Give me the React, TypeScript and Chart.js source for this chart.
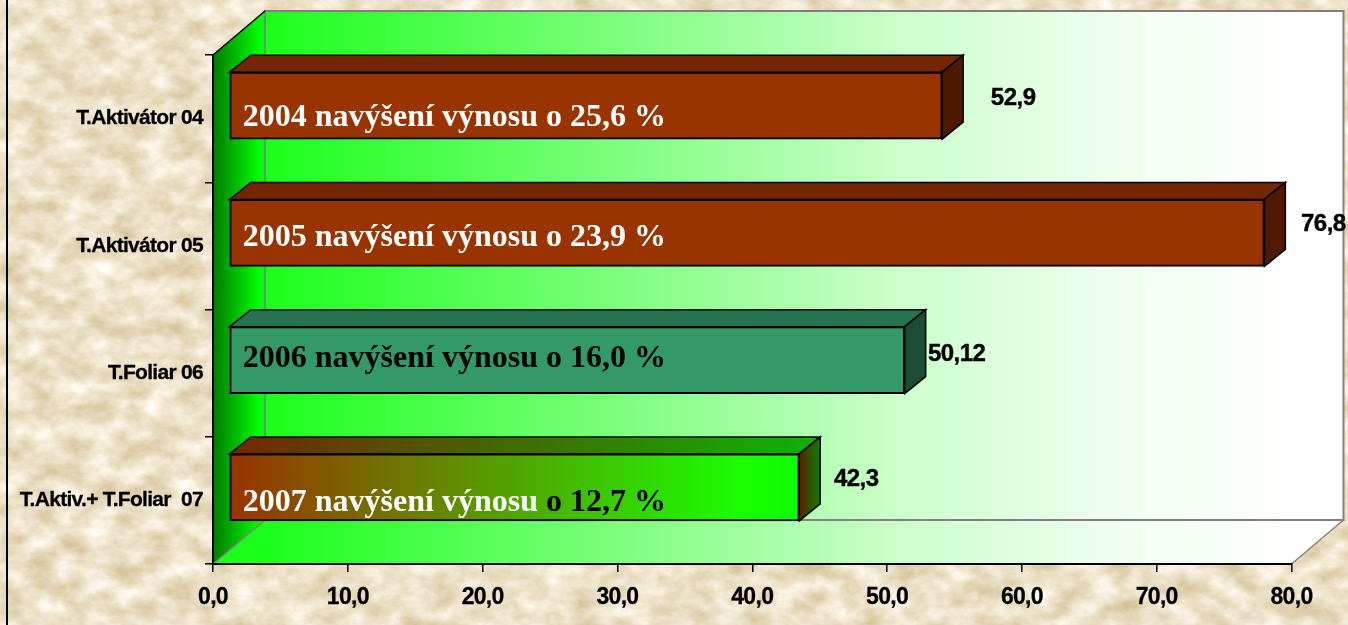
import React, { useEffect, useRef } from "react";
import { Chart, registerables } from "chart.js";

Chart.register(...registerables);

const categories = ["T.Aktivátor 04", "T.Aktivátor 05", "T.Foliar 06", "T.Aktiv.+ T.Foliar  07"];
const values = [52.9, 76.8, 50.12, 42.3];
const valueLabels = ["52,9", "76,8", "50,12", "42,3"];
const innerWhite = ["2004 navýšení výnosu o 25,6 %", "2005 navýšení výnosu o 23,9 %", "", "2007 navýšení výnosu "];
const innerBlack = ["", "", "2006 navýšení výnosu o 16,0 %", "o 12,7 %"];
const labelOffsetX = [71, 59, 52, 57];
const labelOffsetY = [-8, -10, -7, -9];
const innerOffsetY = [12, 5, -1, 15];

const W = 1348;
const H = 625;
const WALL_DX = 52;
const WALL_DY = -44;
const BAR_DX = 16;
const BAR_DY = -13;
const DEPTH_X = 21;
const DEPTH_Y = -17;

const TEXTURE =
  "data:image/svg+xml," +
  encodeURIComponent(
    `<svg xmlns="http://www.w3.org/2000/svg" width="${W}" height="${H}"><filter id="n" x="0" y="0" width="100%" height="100%" color-interpolation-filters="sRGB"><feTurbulence type="fractalNoise" baseFrequency="0.035 0.05" numOctaves="5" seed="7"/><feColorMatrix type="matrix" values="0.25 0 0 0 0.80  0.32 0 0 0 0.72  0.50 0 0 0 0.53  0 0 0 0 1"/></filter><rect width="100%" height="100%" filter="url(#n)"/></svg>`
  );

function shade(stops: [number, string][], ctx: CanvasRenderingContext2D, x0: number, x1: number) {
  const g = ctx.createLinearGradient(x0, 0, x1, 0);
  stops.forEach(([p, c]) => g.addColorStop(p, c));
  return g;
}

function poly(ctx: CanvasRenderingContext2D, pts: number[][], fill: any, stroke?: string, lw = 1) {
  ctx.beginPath();
  pts.forEach(([x, y], i) => (i ? ctx.lineTo(x, y) : ctx.moveTo(x, y)));
  ctx.closePath();
  ctx.fillStyle = fill;
  ctx.fill();
  if (stroke) {
    ctx.strokeStyle = stroke;
    ctx.lineWidth = lw;
    ctx.stroke();
  }
}

const scene = {
  id: "scene",
  beforeDraw(chart: any) {
    const { ctx, chartArea: a } = chart;
    const l = a.left, r = a.right, t = a.top, b = a.bottom;
    const bl = l + WALL_DX, br = r + WALL_DX, bt = t + WALL_DY, bb = b + WALL_DY;
    ctx.save();
    ctx.fillStyle = "#000";
    ctx.fillRect(6, 0, 2, H);
    const wall = shade(
      [
        [0, "#1cff1c"],
        [0.31, "#78ff78"],
        [0.59, "#ccffcc"],
        [0.78, "#eeffee"],
        [0.95, "#ffffff"],
        [1, "#ffffff"],
      ],
      ctx,
      bl,
      br
    );
    poly(ctx, [[l, b], [bl, bb], [br, bb], [r, b]], wall);
    poly(ctx, [[bl, bt], [br, bt], [br, bb], [bl, bb]], wall);
    ctx.strokeStyle = "#808080";
    ctx.lineWidth = 2;
    ctx.strokeRect(bl, bt, br - bl, bb - bt);
    poly(ctx, [[l, t], [bl, bt], [bl, bb], [l, b]], shade([[0, "#007a00"], [0.9, "#00ff00"], [1, "#00ff00"]], ctx, l, bl));
    ctx.lineWidth = 1.5;
    ctx.strokeStyle = "#808080";
    ctx.beginPath();
    ctx.moveTo(l, b);
    ctx.lineTo(bl, bb);
    ctx.moveTo(r, b);
    ctx.lineTo(br, bb);
    ctx.moveTo(bl, bt);
    ctx.lineTo(bl, bb);
    ctx.stroke();
    ctx.strokeStyle = "#000";
    ctx.beginPath();
    ctx.moveTo(l, t);
    ctx.lineTo(bl, bt);
    ctx.stroke();
    ctx.restore();
    (ctx as any).letterSpacing = "-0.7px";
  },
  beforeDatasetsDraw(chart: any) {
    (chart.ctx as any).letterSpacing = "0px";
  },
  beforeDatasetDraw(chart: any, args: any) {
    const { ctx } = chart;
    const bars = chart.getDatasetMeta(args.index).data;
    ctx.save();
    bars.forEach((bar: any, i: number) => {
      const x0 = bar.base + BAR_DX;
      const x1 = bar.x + BAR_DX;
      const y0 = bar.y - bar.height / 2 + BAR_DY;
      const y1 = bar.y + bar.height / 2 + BAR_DY;
      let top: any = "#732600";
      let side: any = "#4d1a00";
      if (i === 2) {
        top = "#267350";
        side = "#1a4d33";
      }
      if (i === 3) {
        top = shade([[0, "#732600"], [1, "#0cb400"]], ctx, x0, x1 + DEPTH_X);
        side = shade([[0, "#5a2000"], [1, "#0d8000"]], ctx, x1, x1 + DEPTH_X);
      }
      poly(ctx, [[x0, y0], [x0 + DEPTH_X, y0 + DEPTH_Y], [x1 + DEPTH_X, y0 + DEPTH_Y], [x1, y0]], top, "#000", 1.5);
      poly(ctx, [[x1, y0], [x1 + DEPTH_X, y0 + DEPTH_Y], [x1 + DEPTH_X, y1 + DEPTH_Y], [x1, y1]], side, "#000", 1.5);
    });
    ctx.translate(BAR_DX, BAR_DY);
  },
  afterDatasetDraw(chart: any) {
    chart.ctx.restore();
  },
  afterDatasetsDraw(chart: any) {
    const { ctx } = chart;
    const bars = chart.getDatasetMeta(0).data;
    ctx.save();
    ctx.textBaseline = "middle";
    bars.forEach((bar: any, i: number) => {
      const cy = bar.y + BAR_DY;
      const x1 = bar.x + BAR_DX;
      ctx.letterSpacing = "-0.5px";
      ctx.font = "bold 24px 'Liberation Sans'";
      ctx.fillStyle = "#000";
      ctx.strokeStyle = "#000";
      ctx.lineWidth = 0.4;
      ctx.textAlign = "center";
      ctx.fillText(valueLabels[i], x1 + labelOffsetX[i], cy + labelOffsetY[i] + 1);
      ctx.strokeText(valueLabels[i], x1 + labelOffsetX[i], cy + labelOffsetY[i] + 1);
      ctx.letterSpacing = "0px";
      ctx.font = "bold 32px 'Liberation Serif'";
      ctx.textAlign = "left";
      let x = bar.base + BAR_DX + 13;
      const ty = cy + innerOffsetY[i];
      if (innerWhite[i]) {
        ctx.fillStyle = "#fff";
        ctx.fillText(innerWhite[i], x, ty);
        x += ctx.measureText(innerWhite[i]).width;
      }
      if (innerBlack[i]) {
        ctx.fillStyle = "#000";
        ctx.fillText(innerBlack[i], x, ty);
      }
    });
    ctx.restore();
  },
};

export default function App() {
  const ref = useRef<HTMLCanvasElement>(null);
  useEffect(() => {
    const canvas = ref.current!;
    const chart = new Chart(canvas, {
      type: "bar",
      data: {
        labels: categories,
        datasets: [
          {
            data: values,
            clip: false,
            barThickness: 67,
            borderWidth: 2,
            borderSkipped: false,
            borderColor: "#000",
            backgroundColor: (c: any) => {
              if (c.dataIndex === 2) return "#339966";
              if (c.dataIndex === 3) {
                const sx = c.chart.scales?.x;
                const x0 = sx?.getPixelForValue(0);
                const x1 = sx?.getPixelForValue(values[3]);
                if (!Number.isFinite(x0) || !Number.isFinite(x1)) return "#993300";
                const g = c.chart.ctx.createLinearGradient(x0, 0, x1, 0);
                g.addColorStop(0, "#993300");
                g.addColorStop(0.9, "#19ff00");
                g.addColorStop(1, "#0cff00");
                return g;
              }
              return "#993300";
            },
          } as any,
        ],
      },
      options: {
        indexAxis: "y",
        responsive: false,
        animation: false,
        layout: { padding: { top: 55, right: 56.5, left: 0, bottom: 0 } },
        plugins: { legend: { display: false }, title: { display: false }, tooltip: { enabled: false } },
        scales: {
          y: {
            type: "category",
            afterFit: (s: any) => {
              s.width = 213;
            },
            border: { color: "#000", width: 2 },
            grid: { color: "#000", drawOnChartArea: false, drawTicks: true, tickLength: 8, lineWidth: 1.5 },
            ticks: {
              padding: 2,
              autoSkip: false,
              color: "#000",
              textStrokeColor: "#000",
              textStrokeWidth: 0.3,
              font: { family: "'Liberation Sans'", weight: "bold", size: 21 },
            },
          },
          x: {
            type: "linear",
            min: 0,
            max: 80,
            afterFit: (s: any) => {
              s.height = 61;
            },
            border: { color: "#000", width: 2 },
            grid: { color: "#000", drawOnChartArea: false, drawTicks: true, tickLength: 8, lineWidth: 1.5 },
            ticks: {
              stepSize: 10,
              padding: 12,
              maxRotation: 0,
              color: "#000",
              textStrokeColor: "#000",
              textStrokeWidth: 0.3,
              font: { family: "'Liberation Sans'", weight: "bold", size: 23 },
              callback: (v: any) => Number(v).toFixed(1).replace(".", ","),
            },
          },
        },
      },
      plugins: [scene],
    } as any);
    return () => chart.destroy();
  }, []);
  return (
    <div
      style={{
        position: "fixed",
        left: 0,
        top: 0,
        width: W,
        height: H,
        overflow: "hidden",
        backgroundImage: `url("${TEXTURE}")`,
        backgroundColor: "#e9dec2",
      }}
    >
      <canvas ref={ref} width={W} height={H} style={{ display: "block" }} />
    </div>
  );
}
